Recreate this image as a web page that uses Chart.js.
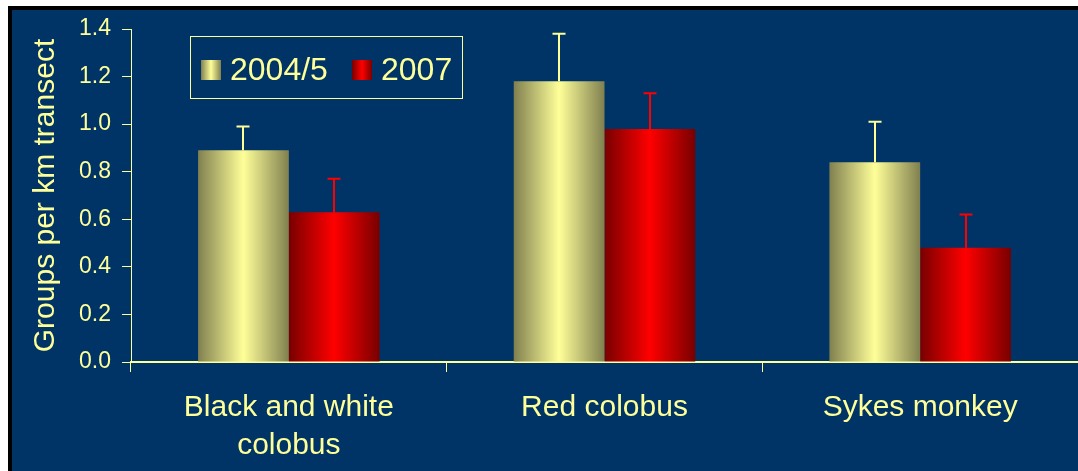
<!DOCTYPE html>
<html>
<head>
<meta charset="utf-8">
<script src="https://cdn.jsdelivr.net/npm/chart.js@4"></script>
<style>
  html, body { margin: 0; padding: 0; background: #ffffff; }
  canvas { display: block; }
</style>
</head>
<body>
<canvas id="chart" width="1078" height="471"></canvas>
<script>
// --- Data ---
const categories = [['Black and white', 'colobus'], 'Red colobus', 'Sykes monkey'];
const seriesLabels = ['2004/5', '2007'];
const values2004 = [0.89, 1.18, 0.84];
const values2007 = [0.63, 0.98, 0.48];
const errors2004 = [0.10, 0.20, 0.17];
const errors2007 = [0.14, 0.15, 0.14];
const yTicks = [0, 0.2, 0.4, 0.6, 0.8, 1.0, 1.2, 1.4];

const YELLOW = '#ffff99';
const NAVY = '#003366';
const FONT = "'Liberation Sans', Arial, sans-serif";

// colours: [light centre, dark edge]
const barShades = [
    ['#ffff99', '#808050'],
    ['#ff0000', '#780000']
];
const errColors = ['#ffff99', '#ff0000'];

function sideGradient(ctx, x0, x1, shade) {
    const g = ctx.createLinearGradient(x0, 0, x1, 0);
    g.addColorStop(0, shade[1]);
    g.addColorStop(0.5, shade[0]);
    g.addColorStop(1, shade[1]);
    return g;
}

// --- Plugins ---
const panelPlugin = {
    id: 'panel',
    beforeDraw(chart) {
        const ctx = chart.ctx;
        ctx.save();
        ctx.fillStyle = '#ffffff';
        ctx.fillRect(0, 0, chart.width, chart.height);
        ctx.fillStyle = '#000000';
        ctx.fillRect(8, 6, chart.width - 8, chart.height - 6);
        ctx.fillStyle = NAVY;
        ctx.fillRect(12, 10, chart.width - 12, chart.height - 10);
        ctx.restore();
    }
};

// each bar gets its own gradient (options are shared per dataset, so copy them)
const gradientPlugin = {
    id: 'barGradient',
    beforeDatasetsDraw(chart) {
        chart.data.datasets.forEach((ds, di) => {
            chart.getDatasetMeta(di).data.forEach(bar => {
                const half = bar.width / 2;
                bar.options = Object.assign({}, bar.options, {
                    backgroundColor: sideGradient(chart.ctx, bar.x - half, bar.x + half, barShades[di])
                });
            });
        });
    }
};

const errorBarPlugin = {
    id: 'errorBars',
    afterDatasetsDraw(chart) {
        const ctx = chart.ctx;
        const y = chart.scales.y;
        const errs = [errors2004, errors2007];
        ctx.save();
        chart.data.datasets.forEach((ds, di) => {
            ctx.strokeStyle = errColors[di];
            ctx.lineWidth = 2;
            chart.getDatasetMeta(di).data.forEach((bar, i) => {
                const top = y.getPixelForValue(ds.data[i] + errs[di][i]);
                const x = Math.round(bar.x);
                ctx.beginPath();
                ctx.moveTo(x, bar.y);
                ctx.lineTo(x, top);
                ctx.moveTo(x - 6.5, top);
                ctx.lineTo(x + 6.5, top);
                ctx.stroke();
            });
        });
        ctx.restore();
    }
};

const legendBoxPlugin = {
    id: 'legendBox',
    afterDraw(chart) {
        const ctx = chart.ctx;
        ctx.save();
        ctx.strokeStyle = YELLOW;
        ctx.lineWidth = 1;
        ctx.strokeRect(190.5, 36.5, 272, 62);
        ctx.font = '32px ' + FONT;
        ctx.textBaseline = 'alphabetic';
        const swatchX = [201, 352];
        chart.data.datasets.forEach((ds, di) => {
            const sx = swatchX[di];
            ctx.fillStyle = sideGradient(ctx, sx, sx + 20, barShades[di]);
            ctx.fillRect(sx, 60, 20, 20);
            ctx.fillStyle = YELLOW;
            ctx.fillText(ds.label, sx + 29, 80);
        });
        ctx.restore();
    }
};

// --- Chart ---
new Chart(document.getElementById('chart'), {
    type: 'bar',
    data: {
        labels: categories,
        datasets: [
            { label: seriesLabels[0], data: values2004, backgroundColor: barShades[0][0], borderWidth: 0 },
            { label: seriesLabels[1], data: values2007, backgroundColor: barShades[1][0], borderWidth: 0 }
        ]
    },
    options: {
        responsive: false,
        animation: false,
        devicePixelRatio: 1,
        layout: { padding: { left: 12, top: 29, right: 0, bottom: 0 } },
        datasets: { bar: { categoryPercentage: 0.575, barPercentage: 1.0 } },
        plugins: {
            legend: { display: false },
            tooltip: { enabled: false }
        },
        scales: {
            x: {
                offset: true,
                grid: { offset: true, drawOnChartArea: false, drawTicks: true, tickLength: 10, color: YELLOW, lineWidth: 1 },
                border: { display: true, color: YELLOW, width: 2 },
                ticks: {
                    color: YELLOW, padding: 17, maxRotation: 0, autoSkip: false,
                    font: { family: FONT, size: 30, lineHeight: 1.25 }
                },
                afterFit(scale) { scale.height = 109; }
            },
            y: {
                min: 0,
                max: 1.4,
                afterBuildTicks(scale) { scale.ticks = yTicks.map(v => ({ value: v })); },
                grid: { drawOnChartArea: false, drawTicks: true, tickLength: 9, color: YELLOW, lineWidth: 1 },
                border: { display: true, color: YELLOW, width: 1 },
                ticks: {
                    color: YELLOW, padding: 11,
                    font: { family: FONT, size: 23 },
                    callback: v => Number(v).toFixed(1)
                },
                title: {
                    display: true,
                    text: 'Groups per km transect',
                    color: YELLOW,
                    font: { family: FONT, size: 30, lineHeight: 1.2 },
                    padding: { top: 16, bottom: 0 }
                },
                afterFit(scale) { scale.width = 119; }
            }
        }
    },
    plugins: [panelPlugin, gradientPlugin, errorBarPlugin, legendBoxPlugin]
});
</script>
</body>
</html>
